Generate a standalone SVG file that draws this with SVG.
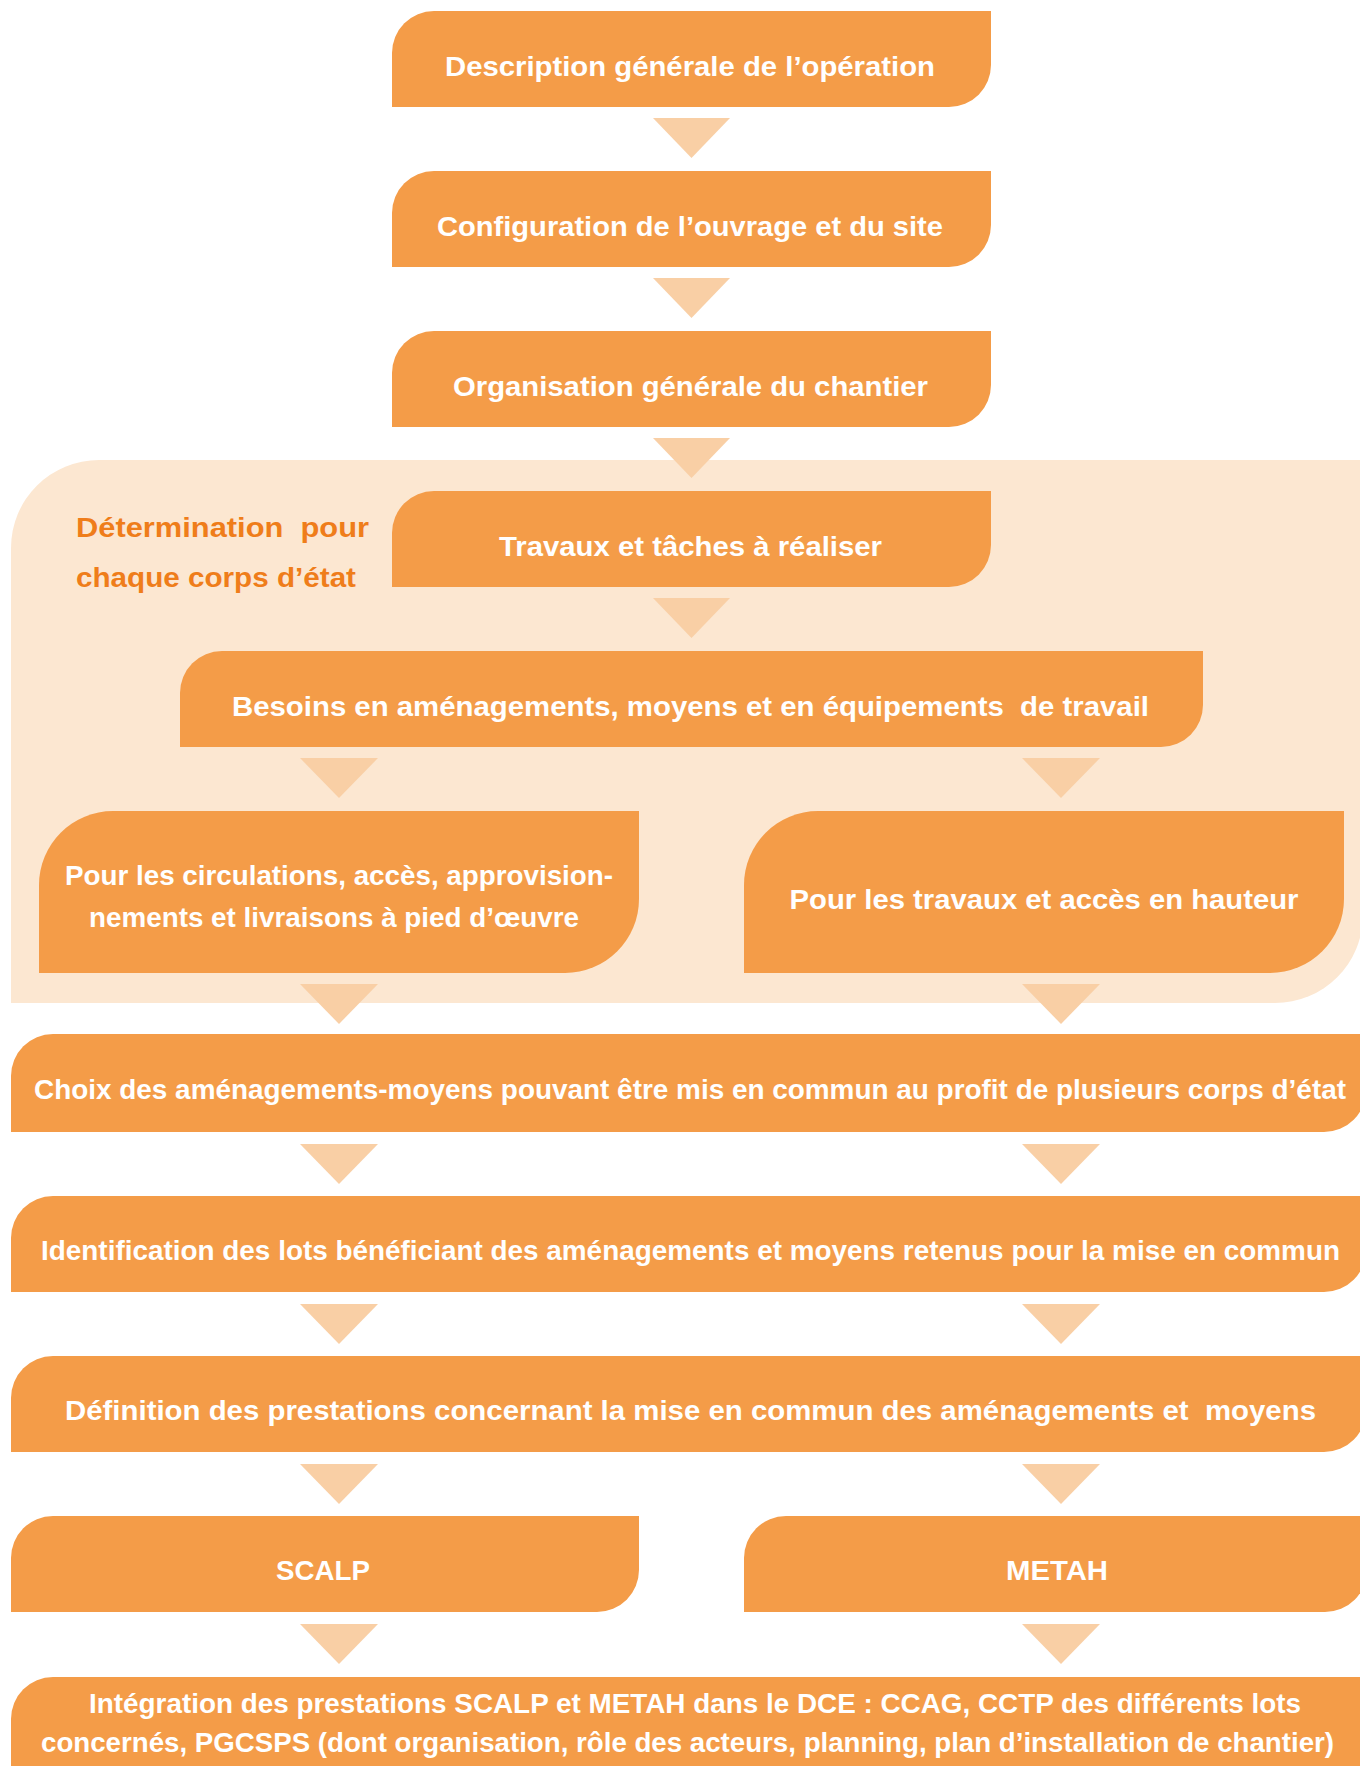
<svg xmlns="http://www.w3.org/2000/svg" width="1360" height="1766" viewBox="0 0 1360 1766">
<style>
.box{fill:#F49C48}
.panel{fill:#FCE7D1}
.tri{fill:#F9CFA5}
.t{font-family:"Liberation Sans",Arial,sans-serif;font-weight:bold;font-size:28px;fill:#FFFFFF;text-anchor:middle}
.o{font-family:"Liberation Sans",Arial,sans-serif;font-weight:bold;font-size:28px;fill:#EF7D1A}
</style>
<rect width="1360" height="1766" fill="#FFFFFF"/>
<g id="panel">
<path class="panel" d="M11,548 A88 88 0 0 1 99,460 H1363 V915 A88 88 0 0 1 1275,1003 H11 Z"/>
<text class="o" x="76" y="537" textLength="293" lengthAdjust="spacingAndGlyphs" xml:space="preserve">Détermination  pour</text>
<text class="o" x="76" y="587" textLength="280" lengthAdjust="spacingAndGlyphs">chaque corps d’état</text>
</g>
<g id="connectors">
<polygon class="tri" points="653,118 730,118 691.5,158"/>
<polygon class="tri" points="653,278 730,278 691.5,318"/>
<polygon class="tri" points="653,438 730,438 691.5,478"/>
<polygon class="tri" points="653,598 730,598 691.5,638"/>
<polygon class="tri" points="300,758 378,758 339,798"/>
<polygon class="tri" points="1022,758 1100,758 1061,798"/>
<polygon class="tri" points="300,984 378,984 339,1024"/>
<polygon class="tri" points="1022,984 1100,984 1061,1024"/>
<polygon class="tri" points="300,1144 378,1144 339,1184"/>
<polygon class="tri" points="1022,1144 1100,1144 1061,1184"/>
<polygon class="tri" points="300,1304 378,1304 339,1344"/>
<polygon class="tri" points="1022,1304 1100,1304 1061,1344"/>
<polygon class="tri" points="300,1464 378,1464 339,1504"/>
<polygon class="tri" points="1022,1464 1100,1464 1061,1504"/>
<polygon class="tri" points="300,1624 378,1624 339,1664"/>
<polygon class="tri" points="1022,1624 1100,1624 1061,1664"/>
</g>
<g id="n1">
<path class="box" d="M392,53 A42 42 0 0 1 434,11 H991 V65 A42 42 0 0 1 949,107 H392 Z"/>
<text class="t" x="690" y="76" textLength="490" lengthAdjust="spacingAndGlyphs">Description générale de l’opération</text>
</g>
<g id="n2">
<path class="box" d="M392,213 A42 42 0 0 1 434,171 H991 V225 A42 42 0 0 1 949,267 H392 Z"/>
<text class="t" x="690" y="236" textLength="506" lengthAdjust="spacingAndGlyphs">Configuration de l’ouvrage et du site</text>
</g>
<g id="n3">
<path class="box" d="M392,373 A42 42 0 0 1 434,331 H991 V385 A42 42 0 0 1 949,427 H392 Z"/>
<text class="t" x="690.5" y="396" textLength="475" lengthAdjust="spacingAndGlyphs">Organisation générale du chantier</text>
</g>
<g id="n4">
<path class="box" d="M392,533 A42 42 0 0 1 434,491 H991 V545 A42 42 0 0 1 949,587 H392 Z"/>
<text class="t" x="690.5" y="556" textLength="383" lengthAdjust="spacingAndGlyphs">Travaux et tâches à réaliser</text>
</g>
<g id="n5">
<path class="box" d="M180,693 A42 42 0 0 1 222,651 H1203 V705 A42 42 0 0 1 1161,747 H180 Z"/>
<text class="t" x="690.5" y="716" textLength="917" lengthAdjust="spacingAndGlyphs" xml:space="preserve">Besoins en aménagements, moyens et en équipements  de travail</text>
</g>
<g id="n6a">
<path class="box" d="M39,885 A74 74 0 0 1 113,811 H639 V899 A74 74 0 0 1 565,973 H39 Z"/>
<text class="t" x="339" y="885" textLength="548" lengthAdjust="spacingAndGlyphs">Pour les circulations, accès, approvision-</text>
<text class="t" x="334" y="927" textLength="490" lengthAdjust="spacingAndGlyphs">nements et livraisons à pied d’œuvre</text>
</g>
<g id="n6b">
<path class="box" d="M744,885 A74 74 0 0 1 818,811 H1344 V899 A74 74 0 0 1 1270,973 H744 Z"/>
<text class="t" x="1044" y="909" textLength="509" lengthAdjust="spacingAndGlyphs">Pour les travaux et accès en hauteur</text>
</g>
<g id="n7">
<path class="box" d="M11,1076 A42 42 0 0 1 53,1034 H1366 V1090 A42 42 0 0 1 1324,1132 H11 Z"/>
<text class="t" x="690" y="1099" textLength="1312" lengthAdjust="spacingAndGlyphs">Choix des aménagements-moyens pouvant être mis en commun au profit de plusieurs corps d’état</text>
</g>
<g id="n8">
<path class="box" d="M11,1238 A42 42 0 0 1 53,1196 H1366 V1250 A42 42 0 0 1 1324,1292 H11 Z"/>
<text class="t" x="690.5" y="1260" textLength="1299" lengthAdjust="spacingAndGlyphs">Identification des lots bénéficiant des aménagements et moyens retenus pour la mise en commun</text>
</g>
<g id="n9">
<path class="box" d="M11,1398 A42 42 0 0 1 53,1356 H1366 V1410 A42 42 0 0 1 1324,1452 H11 Z"/>
<text class="t" x="690.5" y="1420" textLength="1251" lengthAdjust="spacingAndGlyphs" xml:space="preserve">Définition des prestations concernant la mise en commun des aménagements et  moyens</text>
</g>
<g id="n10a">
<path class="box" d="M11,1558 A42 42 0 0 1 53,1516 H639 V1570 A42 42 0 0 1 597,1612 H11 Z"/>
<text class="t" x="323" y="1580" textLength="94" lengthAdjust="spacingAndGlyphs">SCALP</text>
</g>
<g id="n10b">
<path class="box" d="M744,1558 A42 42 0 0 1 786,1516 H1367 V1570 A42 42 0 0 1 1325,1612 H744 Z"/>
<text class="t" x="1057" y="1580" textLength="102" lengthAdjust="spacingAndGlyphs">METAH</text>
</g>
<g id="n11">
<path class="box" d="M11,1719 A42 42 0 0 1 53,1677 H1366 V1760 A42 42 0 0 1 1324,1802 H11 Z"/>
<text class="t" x="695" y="1713" textLength="1212" lengthAdjust="spacingAndGlyphs">Intégration des prestations SCALP et METAH dans le DCE : CCAG, CCTP des différents lots</text>
<text class="t" x="687.5" y="1752" textLength="1293" lengthAdjust="spacingAndGlyphs">concernés, PGCSPS (dont organisation, rôle des acteurs, planning, plan d’installation de chantier)</text>
</g>
</svg>
